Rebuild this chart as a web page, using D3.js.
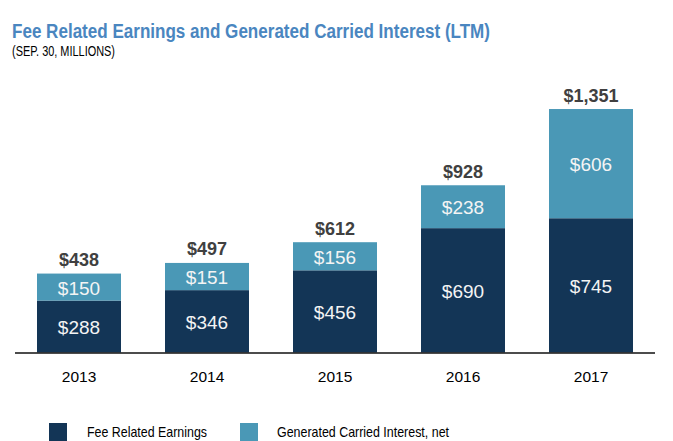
<!DOCTYPE html>
<html>
<head>
<meta charset="utf-8">
<script src="https://cdn.jsdelivr.net/npm/d3@7"></script>
<style>
  html, body { margin: 0; padding: 0; background: #fff; }
  svg { display: block; font-family: "Liberation Sans", Arial, sans-serif; }
</style>
</head>
<body>
<svg id="chart" width="673" height="441"></svg>
<script>
const years = ["2013", "2014", "2015", "2016", "2017"];
const feeRelated = [288, 346, 456, 690, 745];
const carried = [150, 151, 156, 238, 606];
const totals = [438, 497, 612, 928, 1351];
const seriesNames = ["Fee Related Earnings", "Generated Carried Interest, net"];
const colors = ["#133556", "#4a98b6"];

const svg = d3.select("#chart");

// Title
svg.append("text")
  .attr("x", 12).attr("y", 37.7)
  .attr("font-size", 20).attr("font-weight", "bold")
  .attr("fill", "#4a86c0")
  .attr("textLength", 478).attr("lengthAdjust", "spacingAndGlyphs")
  .text("Fee Related Earnings and Generated Carried Interest (LTM)");
svg.append("text")
  .attr("x", 12).attr("y", 55.5)
  .attr("font-size", 14)
  .attr("fill", "#000")
  .attr("textLength", 103).attr("lengthAdjust", "spacingAndGlyphs")
  .text("(SEP. 30, MILLIONS)");

const x = d3.scaleBand().domain(years).range([15, 655])
  .paddingInner(0.34375).paddingOuter(0.171875);
const y = d3.scaleLinear().domain([0, 1400]).range([352.5, 100.2]);

const data = years.map((yr, i) => ({ year: yr, fee: feeRelated[i], carry: carried[i], total: totals[i] }));
const stack = d3.stack().keys(["fee", "carry"])(data);

const g = svg.append("g");
stack.forEach((layer, li) => {
  g.selectAll(null).data(layer).enter().append("rect")
    .attr("x", d => x(d.data.year))
    .attr("width", x.bandwidth())
    .attr("y", d => y(d[1]))
    .attr("height", d => y(d[0]) - y(d[1]))
    .attr("fill", colors[li]);
  g.selectAll(null).data(layer).enter().append("text")
    .attr("x", d => x(d.data.year) + x.bandwidth() / 2)
    .attr("y", d => (y(d[0]) + y(d[1])) / 2 + 1)
    .attr("text-anchor", "middle")
    .attr("dominant-baseline", "central")
    .attr("font-size", 19)
    .attr("fill", "#f4f4f4")
    .text(d => "$" + d3.format(",")(d[1] - d[0]));
});

// Totals
g.selectAll(null).data(data).enter().append("text")
  .attr("x", d => x(d.year) + x.bandwidth() / 2)
  .attr("y", d => y(d.total) - 7.5)
  .attr("text-anchor", "middle")
  .attr("font-size", 18)
  .attr("font-weight", "bold")
  .attr("fill", "#404040")
  .text(d => "$" + d3.format(",")(d.total));

// X axis
const xAxis = svg.append("g").attr("transform", `translate(0,${y(0)})`)
  .call(d3.axisBottom(x).tickSize(0).tickPadding(18));
xAxis.select(".domain").attr("stroke", "#111").attr("stroke-width", 1.7).attr("d", "M15,0.5H655");
xAxis.selectAll(".tick text")
  .attr("font-size", 15.5)
  .attr("font-family", "Liberation Sans, Arial, sans-serif")
  .attr("fill", "#000");

// Legend
const legendX = [49, 240];
const legendTextX = [87, 277];
const legendW = [120, 172];
seriesNames.forEach((name, i) => {
  svg.append("rect")
    .attr("x", legendX[i]).attr("y", 423)
    .attr("width", 18).attr("height", 18)
    .attr("fill", colors[i]);
  svg.append("text")
    .attr("x", legendTextX[i]).attr("y", 437)
    .attr("font-size", 15)
    .attr("fill", "#000")
    .attr("textLength", legendW[i]).attr("lengthAdjust", "spacingAndGlyphs")
    .text(name);
});
</script>
</body>
</html>
